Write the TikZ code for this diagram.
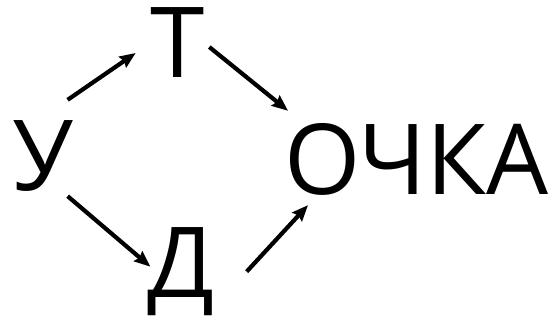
\documentclass[tikz,border=0pt]{standalone}
\usepackage{fontspec}
\setmainfont{Open Sans}
\usetikzlibrary{arrows.meta}

\tikzset{
  letter/.style={font=\fontsize{98}{98}\selectfont, inner sep=0pt, anchor=base},
  arr/.style={line width=4.2pt, -{Stealth[length=16pt, width=13pt, inset=2pt]}}
}

\begin{document}
\begin{tikzpicture}[x=1pt, y=-1pt]
  \useasboundingbox (0,0) rectangle (551,320);
  % letters
  \node[letter] (u) at (43,191) {У};
  \node[letter] (t) at (178,78) {Т};
  \node[letter] (d) at (181,297) {Д};
  \node[letter, anchor=base west] (ochka) at (284,195) {ОЧКА};

  % arrows
  \draw[arr] ([shift={(-6,-21)}]u.north east) -- ([shift={(-15,10)}]t.west);
  \draw[arr] ([shift={(4,4)}]t.east) -- ([shift={(4,-13)}]ochka.north west);
  \draw[arr] ([shift={(-6,4)}]u.south east) -- ([shift={(3,-4.5)}]d.west);
  \draw[arr] ([shift={(32,0.5)}]d.east) -- ([shift={(24,9)}]ochka.south west);
\end{tikzpicture}
\end{document}
